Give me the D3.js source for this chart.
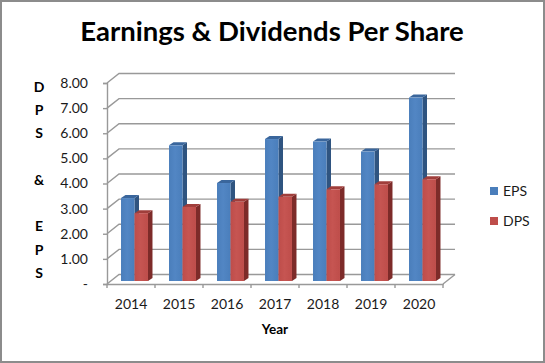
<!DOCTYPE html>
<html>
<head>
<meta charset="utf-8">
<script src="https://cdn.jsdelivr.net/npm/d3@7"></script>
<style>
  html, body { margin: 0; padding: 0; background: #fff; }
  svg { display: block; }
  text { font-family: Lato, "Open Sans", sans-serif; fill: #1a1a1a; }
</style>
</head>
<body>
<script>
const years = ['2014', '2015', '2016', '2017', '2018', '2019', '2020'];
const eps = [3.3, 5.4, 3.9, 5.65, 5.55, 5.15, 7.3];
const dps = [2.7, 2.95, 3.15, 3.35, 3.65, 3.85, 4.05];
const seriesNames = ['EPS', 'DPS'];
const yTicks = [0, 1, 2, 3, 4, 5, 6, 7, 8];
const yTitle = ['D', 'P', 'S', '', '&', '', 'E', 'P', 'S'];

const width = 545, height = 363;
const wallX = 12, wallY = -9.5;   // Versatz der Rueckwand
const barX = 3.5, barY = -3;      // Versatz der Balken-Vorderseite
const depthX = 4.5, depthY = -3;  // Tiefe der Balken

const colors = {
    EPS: { light: '#5286c4', front: '#4a7ebb', side: '#2f5480', top: '#3a669c' },
    DPS: { light: '#c65552', front: '#be4d4a', side: '#7d2b29', top: '#a03e3b' }
};

const svg = d3.select('body').append('svg')
    .attr('width', width)
    .attr('height', height);

svg.append('rect')
    .attr('x', 1).attr('y', 1)
    .attr('width', width - 2).attr('height', height - 2)
    .attr('fill', '#fff')
    .attr('stroke', '#8c8c8c')
    .attr('stroke-width', 2);

const x = d3.scaleBand().domain(years).range([107, 443]);
const y = d3.scaleLinear().domain([0, 8]).range([284, 83]);
const x1 = d3.scaleBand().domain(seriesNames)
    .range([0, x.bandwidth()])
    .paddingInner(0)
    .paddingOuter(0.78);

const defs = svg.append('defs');
seriesNames.forEach(name => {
    const grad = defs.append('linearGradient').attr('id', 'grad' + name);
    grad.append('stop').attr('offset', '0%').attr('stop-color', colors[name].front);
    grad.append('stop').attr('offset', '45%').attr('stop-color', colors[name].light);
    grad.append('stop').attr('offset', '100%').attr('stop-color', colors[name].front);
});

// Wand und Gitter
const grid = svg.append('g')
    .attr('fill', 'none')
    .attr('stroke', '#999')
    .attr('stroke-width', 1.4);

grid.selectAll('path.grid')
    .data(yTicks)
    .enter()
    .append('path')
    .attr('class', 'grid')
    .attr('d', d => {
        const p = d3.path();
        p.moveTo(x.range()[0], y(d));
        p.lineTo(x.range()[0] + wallX, y(d) + wallY);
        p.lineTo(x.range()[1] + wallX, y(d) + wallY);
        return p.toString();
    });

// rechte Bodenkante
grid.append('line')
    .attr('x1', x.range()[1]).attr('y1', y(0))
    .attr('x2', x.range()[1] + wallX).attr('y2', y(0) + wallY);

// Achsen
const yAxis = svg.append('g')
    .attr('transform', 'translate(' + x.range()[0] + ',0)')
    .call(d3.axisLeft(y)
        .tickValues(yTicks)
        .tickSize(4)
        .tickPadding(15)
        .tickFormat(d => d === 0 ? '-' : d3.format('.2f')(d)));

const xAxis = svg.append('g')
    .attr('transform', 'translate(0,' + y(0) + ')')
    .call(d3.axisBottom(x).tickSize(0).tickPadding(15));

svg.selectAll('.domain').attr('stroke', '#999').attr('stroke-width', 1.4);
yAxis.selectAll('line').attr('stroke', '#999').attr('stroke-width', 1.4);
yAxis.selectAll('text').style('font-size', '14px').attr('dy', '0.32em');
xAxis.selectAll('text').style('font-size', '14px');

xAxis.selectAll('line.sep')
    .data(years.concat(['end']))
    .enter()
    .append('line')
    .attr('class', 'sep')
    .attr('x1', (d, i) => x.range()[0] + i * x.step())
    .attr('x2', (d, i) => x.range()[0] + i * x.step())
    .attr('y1', 0)
    .attr('y2', 4)
    .attr('stroke', '#999')
    .attr('stroke-width', 1.4);

// Balken
function renderBars(name, values) {
    const c = colors[name];
    const bars = svg.append('g').attr('class', 'bars-' + name)
        .selectAll('g')
        .data(values)
        .enter()
        .append('g')
        .attr('transform', (d, i) =>
            'translate(' + (x(years[i]) + x1(name) + barX) + ',' + barY + ')');

    const w = x1.bandwidth();

    bars.append('path')
        .attr('fill', c.side)
        .attr('d', d => 'M' + w + ',' + y(d) +
            'l' + depthX + ',' + depthY +
            'L' + (w + depthX) + ',' + (y(0) + depthY) +
            'L' + w + ',' + y(0) + 'Z');

    bars.append('path')
        .attr('fill', c.top)
        .attr('d', d => 'M0,' + y(d) +
            'l' + depthX + ',' + depthY +
            'h' + w +
            'l' + (-depthX) + ',' + (-depthY) + 'Z');

    bars.append('rect')
        .attr('y', d => y(d))
        .attr('width', w)
        .attr('height', d => y(0) - y(d))
        .attr('fill', 'url(#grad' + name + ')');
}

renderBars('EPS', eps);
renderBars('DPS', dps);

// Titel
svg.append('text')
    .attr('x', 272).attr('y', 41)
    .attr('text-anchor', 'middle')
    .style('font-size', '27.5px')
    .style('font-weight', 700)
    .style('fill', '#000')
    .text('Earnings & Dividends Per Share');

svg.append('text')
    .attr('x', 275).attr('y', 334)
    .attr('text-anchor', 'middle')
    .style('font-size', '13.5px')
    .style('font-weight', 700)
    .style('fill', '#000')
    .text('Year');

// Achsentitel, senkrecht gestapelt
const titleY = d3.scalePoint().domain(d3.range(yTitle.length)).range([87, 273]);
svg.append('g').selectAll('text')
    .data(yTitle)
    .enter()
    .append('text')
    .attr('x', 39)
    .attr('y', (d, i) => titleY(i))
    .attr('dy', '0.35em')
    .attr('text-anchor', 'middle')
    .style('font-size', '14px')
    .style('font-weight', 700)
    .style('fill', '#000')
    .text(d => d);

// Legende
const legend = svg.append('g').selectAll('g')
    .data(seriesNames)
    .enter()
    .append('g')
    .attr('transform', (d, i) => 'translate(490,' + (191 + i * 30) + ')');

legend.append('rect')
    .attr('y', -4)
    .attr('width', 8).attr('height', 8)
    .attr('fill', d => colors[d].front);

legend.append('text')
    .attr('x', 13)
    .attr('dy', '0.35em')
    .style('font-size', '14px')
    .text(d => d);
</script>
</body>
</html>
